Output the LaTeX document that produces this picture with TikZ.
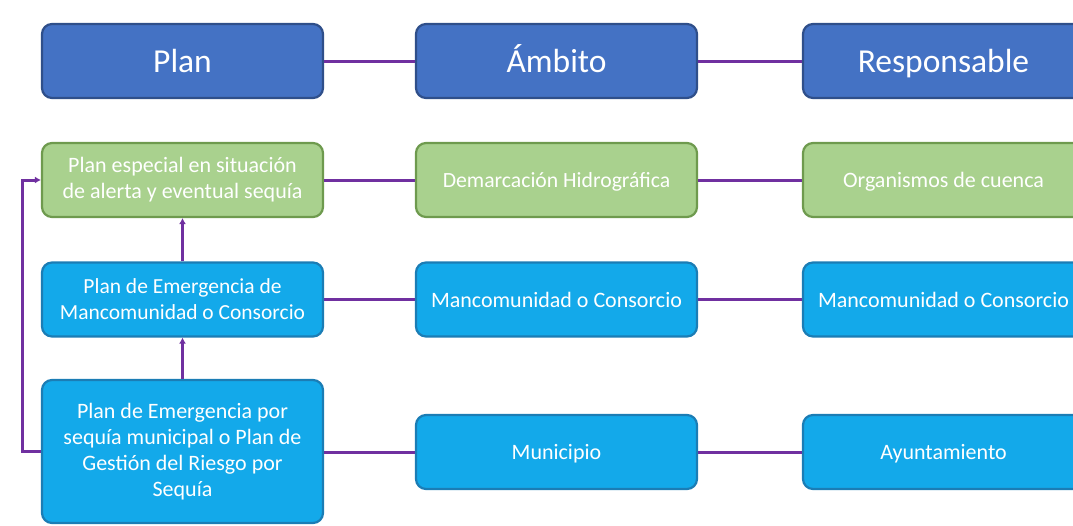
\documentclass[tikz,border=0pt]{standalone}
\usepackage{fontspec}
\setmainfont{Carlito}
\usetikzlibrary{arrows.meta}
\definecolor{hdfill}{HTML}{4472C4}
\definecolor{hddraw}{HTML}{2F4F8A}
\definecolor{grfill}{HTML}{A9D18E}
\definecolor{grdraw}{HTML}{6E9A4E}
\definecolor{blfill}{HTML}{13A9EA}
\definecolor{bldraw}{HTML}{1B7DB5}
\definecolor{conn}{HTML}{7030A0}
\tikzset{
  box/.style={rounded corners=10pt, line width=2.2pt, text=white, align=center, inner sep=0pt, minimum width=281pt, minimum height=74pt},
  one/.style={text height=15pt, text depth=0pt},
  hdr/.style={box, fill=hdfill, draw=hddraw, font=\fontsize{33.5}{38}\selectfont, text height=22pt, text depth=0pt},
  grn/.style={box, fill=grfill, draw=grdraw, font=\fontsize{22}{26}\selectfont},
  blu/.style={box, fill=blfill, draw=bldraw, font=\fontsize{22}{26}\selectfont},
  wire/.style={conn, line width=3pt},
  arr/.style={wire, -{Latex[length=6pt,width=7pt]}}
}
\begin{document}
\begin{tikzpicture}[x=1pt,y=-1pt]
\useasboundingbox (0,0) rectangle (1073,525);
\clip (0,0) rectangle (1073,525);
% headers
\node[hdr] (h1) at (182.5,61) {Plan};
\node[hdr] (h2) at (556.5,61) {Ámbito};
\node[hdr] (h3) at (943.5,61) {Responsable};
% green row
\node[grn] (g1) at (182.5,180) {Plan especial en situación\\de alerta y eventual sequía};
\node[grn, one, font=\fontsize{21.7}{26}\selectfont] (g2) at (556.5,180) {Demarcación Hidrográfica};
\node[grn, one] (g3) at (943.5,180) {Organismos de cuenca};
% blue row 2
\node[blu, font=\fontsize{21.5}{26}\selectfont] (b1) at (182.5,299.5) {Plan de Emergencia de\\Mancomunidad o Consorcio};
\node[blu, one] (b2) at (556.5,299.5) {Mancomunidad o Consorcio};
\node[blu, one] (b3) at (943.5,299.5) {Mancomunidad o Consorcio};
% blue row 3
\node[blu, minimum height=143pt] (c1) at (182.5,451.5) {Plan de Emergencia por\\sequía municipal o Plan de\\Gestión del Riesgo por\\Sequía};
\node[blu, one] (c2) at (556.5,452) {Municipio};
\node[blu, one] (c3) at (943.5,452) {Ayuntamiento};
% connectors
\draw[wire] (h1) -- (h2);
\draw[wire] (h2) -- (h3);
\draw[wire] (g1) -- (g2);
\draw[wire] (g2) -- (g3);
\draw[wire] (b1) -- (b2);
\draw[wire] (b2) -- (b3);
\draw[wire] (c1.east |- c2) -- (c2);
\draw[wire] (c2) -- (c3);
\draw[arr] (b1) -- (g1);
\draw[arr] (c1) -- (b1);
\coordinate (lb) at (22,451.5);
\coordinate (lt) at (22,180);
\draw[arr] (c1.west) -- (lb) -- (lt) -- (g1.west);
\end{tikzpicture}
\end{document}
